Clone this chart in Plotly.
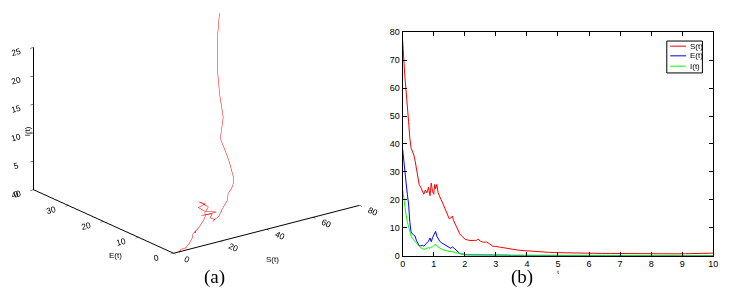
import plotly.graph_objects as go
import numpy as np

# ---- data ----
t = [0, 0.03, 0.07, 0.11, 0.15, 0.19, 0.23, 0.27, 0.31, 0.36, 0.4, 0.44, 0.48, 0.53,
     0.58, 0.63, 0.68, 0.73, 0.78, 0.83, 0.88, 0.92, 0.96, 1.0, 1.03, 1.06, 1.1, 1.14,
     1.19, 1.24, 1.3, 1.35, 1.4, 1.45, 1.5, 1.55, 1.6, 1.64, 1.68, 1.72, 1.78, 1.84,
     1.9, 1.96, 2.02, 2.1, 2.2, 2.3, 2.36, 2.42, 2.5, 2.6, 2.7, 2.8, 2.9, 3.0, 3.1,
     3.2, 3.3, 3.4, 3.5, 3.7, 3.9, 4.1, 4.3, 4.5, 4.7, 4.9, 5.2, 5.5, 5.8, 6.1, 6.4,
     6.7, 7.0, 7.3, 7.6, 7.9, 8.2, 8.5, 8.8, 9.1, 9.4, 9.6, 9.8, 10.0]

S_vals = [77, 70, 64, 59, 54.5, 48, 42, 38.5, 37.5, 36, 34, 31.5, 28, 25.5,
          24.5, 23.5, 22, 23.5, 22.5, 24.5, 21.5, 26, 23, 22, 25.5, 24, 25.5, 22.5,
          21.5, 20, 18.5, 17, 15.5, 14, 13.2, 13.5, 14.2, 12.5, 11.5, 10.5, 9, 7.8,
          7, 6.2, 5.8, 5.6, 5.4, 5.5, 5.3, 6, 5.2, 4.8, 4.9, 4.2, 3.4, 3.3, 3.1,
          2.9, 2.7, 2.4, 2.2, 2.0, 1.8, 1.6, 1.5, 1.3, 1.2, 1.1, 1.0, 0.95, 0.9, 0.85, 0.8,
          0.8, 0.75, 0.75, 0.7, 0.7, 0.7, 0.7, 0.65, 0.7, 0.75, 0.8, 1.0, 0.9]

E_vals = [38, 34, 30, 26, 22, 18.5, 12, 8.5, 7.8, 7.3, 7.0, 5.5, 4.5, 3.6,
          3.5, 3.7, 3.4, 3.9, 4.5, 5.2, 6.3, 5.0, 6.4, 7.6, 7.8, 8.7, 7.0, 6.0,
          5.2, 4.7, 4.3, 3.8, 3.4, 3.0, 2.7, 2.6, 3.2, 2.8, 2.2, 1.7, 1.2, 0.8,
          0.6, 0.4, 0.35, 0.3, 0.3, 0.3, 0.3, 0.3, 0.3, 0.3, 0.3, 0.3, 0.3, 0.3, 0.3,
          0.3, 0.25, 0.15, 0, 0, 0, 0, 0, 0, 0, 0, 0, 0, 0, 0, 0,
          0, 0, 0, 0, 0, 0, 0, 0, 0, 0, 0, 0, 0]

I_vals = [23.5, 20.5, 17.5, 14.5, 12, 10, 8.4, 7, 6.2, 5.6, 5.0, 4.5, 3.8, 3.3,
          2.8, 2.5, 2.3, 2.4, 2.6, 2.9, 2.6, 3.1, 3.2, 3.6, 3.8, 4.1, 3.5, 3.1,
          2.8, 2.4, 2.1, 1.9, 1.7, 1.6, 1.5, 1.5, 1.5, 1.3, 1.1, 1.0, 0.8, 0.6,
          0.5, 0.4, 0.3, 0.25, 0.25, 0.25, 0.25, 0.25, 0.25, 0.25, 0.25, 0.25, 0.2, 0, 0,
          0, 0, 0, 0, 0, 0, 0, 0, 0, 0, 0, 0, 0, 0, 0, 0,
          0, 0, 0, 0, 0, 0, 0, 0, 0, 0, 0, 0, 0]

series_names = ["S(t)", "E(t)", "I(t)"]
series_colors = ["#ff0000", "#0000ff", "#00ff00"]

s_ticks = [0, 20, 40, 60, 80]
e_ticks = [0, 10, 20, 30, 40]
i_ticks = [0, 5, 10, 15, 20, 25]
t_ticks = list(range(0, 11))
y_ticks = list(range(0, 81, 10))

FONT = "Liberation Sans"
fig = go.Figure()

# ---- (a) 3D trajectory ----
fig.add_trace(go.Scatter3d(x=S_vals, y=E_vals, z=I_vals, mode="lines",
                           line=dict(color="#ff0000", width=1),
                           showlegend=False, hoverinfo="skip"))

# ---- (b) time series ----
for name, vals, col in zip(series_names, [S_vals, E_vals, I_vals], series_colors):
    fig.add_trace(go.Scatter(x=t, y=vals, mode="lines", name=name, showlegend=False,
                             line=dict(color=col, width=1), hoverinfo="skip"))

ax3 = dict(showgrid=False, showbackground=False, showline=True, linecolor="black",
           linewidth=2, ticks="outside", tickcolor="black", ticklen=4,
           zeroline=False, showspikes=False, title=dict(text=""),
           tickfont=dict(family=FONT, size=10, color="black"))

r = 1.6
el = np.deg2rad(20)
phi = np.deg2rad(37)
cz = -0.11
eye = dict(x=-np.sin(phi) * np.cos(el) * r, y=-np.cos(phi) * np.cos(el) * r,
           z=np.sin(el) * r + cz)
k = 1.84

# ---- legend box for (b) ----
leg_box = dict(x0=663, x1=699, y0=29, y1=62)
leg_rows = [34.3, 44.3, 55]
shapes = [dict(type="rect", xref="paper", yref="paper",
               x0=leg_box["x0"] / 735, x1=leg_box["x1"] / 735,
               y0=1 - leg_box["y1"] / 301, y1=1 - leg_box["y0"] / 301,
               line=dict(color="black", width=1), fillcolor="white", layer="above")]
annotations = [
    dict(text="(a)", x=193 / 735, y=1 - 287 / 301, xref="paper", yref="paper",
         showarrow=False, font=dict(family="Liberation Serif", size=19)),
    dict(text="(b)", x=530 / 735, y=1 - 287 / 301, xref="paper", yref="paper",
         showarrow=False, font=dict(family="Liberation Serif", size=19)),
    # 3D axis titles, placed as in the reference
    dict(text="I(t)", x=11 / 735, y=1 - 122 / 301, xref="paper", yref="paper",
         showarrow=False, textangle=-90, font=dict(size=8)),
    dict(text="E(t)", x=97 / 735, y=1 - 258 / 301, xref="paper", yref="paper",
         showarrow=False, font=dict(size=8)),
    dict(text="S(t)", x=264 / 735, y=1 - 262 / 301, xref="paper", yref="paper",
         showarrow=False, font=dict(size=8)),
]
for name, col, ry in zip(series_names, series_colors, leg_rows):
    shapes.append(dict(type="line", xref="paper", yref="paper",
                       x0=666.5 / 735, x1=682.5 / 735, y0=1 - ry / 301, y1=1 - ry / 301,
                       line=dict(color=col, width=1), layer="above"))
    annotations.append(dict(text=name, x=684 / 735, y=1 - ry / 301, xref="paper",
                            yref="paper", xanchor="left", yanchor="middle",
                            showarrow=False, font=dict(size=8)))

fig.update_layout(
    width=735, height=301,
    margin=dict(l=0, r=0, t=0, b=0),
    paper_bgcolor="white", plot_bgcolor="white",
    font=dict(family=FONT, size=9, color="black"),
    showlegend=False,
    scene=dict(
        domain=dict(x=[0, 0.51], y=[0.13, 1.0]),
        xaxis=dict(ax3, range=[0, 80], tickvals=s_ticks),
        yaxis=dict(ax3, range=[0, 40], tickvals=e_ticks),
        zaxis=dict(ax3, range=[0, 25], tickvals=i_ticks),
        aspectmode="manual", aspectratio=dict(x=k, y=k, z=0.65 * k),
        camera=dict(projection=dict(type="orthographic"), eye=eye,
                    up=dict(x=0, y=0, z=1), center=dict(x=0, y=0, z=cz)),
    ),
    xaxis=dict(domain=[396 / 735, 710 / 735], range=[0, 10], tickvals=t_ticks,
               showline=True, linecolor="black", linewidth=1, mirror="ticks",
               ticks="inside", ticklen=4, tickcolor="black", showgrid=False,
               zeroline=False, tickfont=dict(size=9),
               title=dict(text="t", font=dict(size=6), standoff=0)),
    yaxis=dict(domain=[50 / 301, 281 / 301], range=[0, 80], tickvals=y_ticks,
               showline=True, linecolor="black", linewidth=1, mirror="ticks",
               ticks="inside", ticklen=4, tickcolor="black", showgrid=False,
               zeroline=False, tickfont=dict(size=9)),
    shapes=shapes,
    annotations=annotations,
)

fig.write_html("out.html")
